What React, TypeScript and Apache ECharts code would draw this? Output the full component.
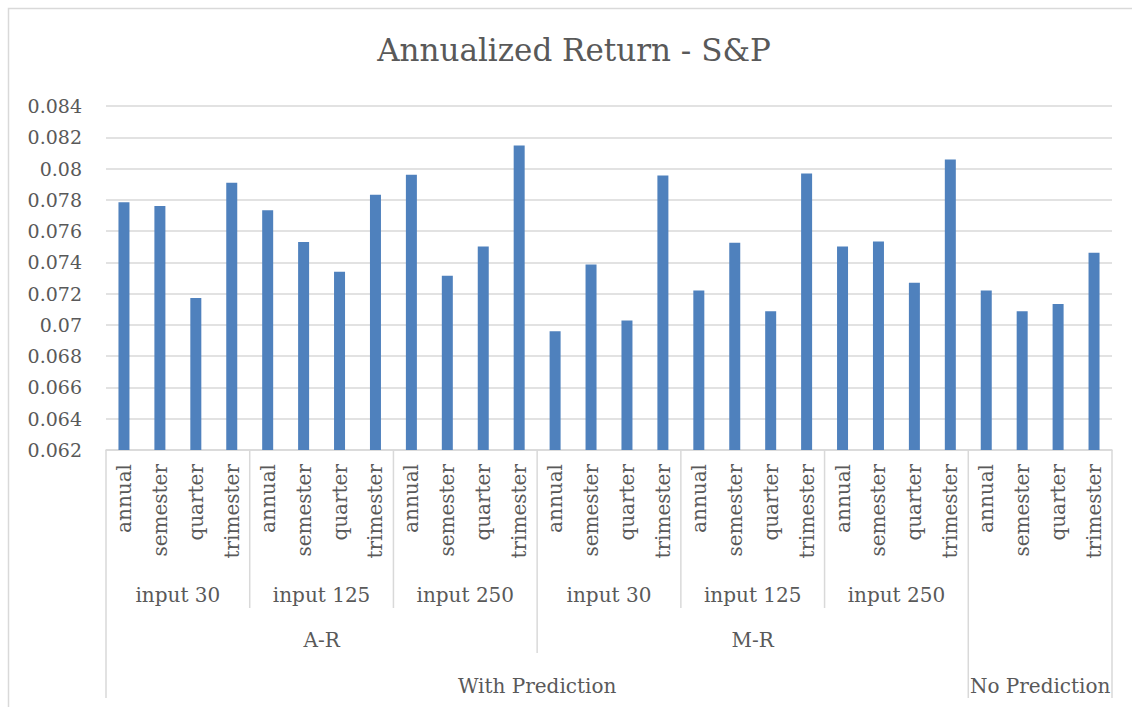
import React, { useEffect, useRef } from "react";
import * as echarts from "echarts";

const titleText = "Annualized Return - S&P";
const subCategories = ["annual", "semester", "quarter", "trimester"];

const arInput30 = [0.07785, 0.0776, 0.07172, 0.07909];
const arInput125 = [0.07734, 0.0753, 0.0734, 0.07832];
const arInput250 = [0.0796, 0.07315, 0.07502, 0.08147];
const mrInput30 = [0.0696, 0.07387, 0.07028, 0.07955];
const mrInput125 = [0.0722, 0.07525, 0.07088, 0.07968];
const mrInput250 = [0.07502, 0.07534, 0.0727, 0.08058];
const noPrediction = [0.0722, 0.07088, 0.07134, 0.07461];

const inputGroups = ["input 30", "input 125", "input 250", "input 30", "input 125", "input 250", ""];
const modelGroups = [
  { name: "A-R", span: 12 },
  { name: "M-R", span: 12 },
  { name: "", span: 4 },
];
const predictionGroups = [
  { name: "With Prediction", span: 24 },
  { name: "No Prediction", span: 4 },
];

const yMin = 0.062;
const yMax = 0.084;
const yStep = 0.002;

const values = [
  ...arInput30,
  ...arInput125,
  ...arInput250,
  ...mrInput30,
  ...mrInput125,
  ...mrInput250,
  ...noPrediction,
];
const categories = inputGroups.flatMap(() => subCategories);

const FONT = "DejaVu Serif";
const TEXT_COLOR = "#595959";
const LINE_COLOR = "#d9d9d9";

export default function App() {
  const ref = useRef<HTMLDivElement>(null);

  useEffect(() => {
    document.body.style.margin = "0";
    const el = ref.current;
    if (!el) return;
    const chart = echarts.init(el, null, { renderer: "svg" });
    const option: any = {
      animation: false,
      backgroundColor: "#ffffff",
      grid: { left: 106, right: 20, top: 106, bottom: 257, containLabel: false },
      xAxis: {
        type: "category",
        data: categories,
        axisLine: { show: true, lineStyle: { color: LINE_COLOR, width: 1.5 } },
        axisTick: { show: false },
        axisLabel: {
          interval: 0,
          rotate: 90,
          margin: 14,
          fontFamily: FONT,
          fontSize: 20,
          color: TEXT_COLOR,
        },
      },
      yAxis: {
        type: "value",
        min: yMin,
        max: yMax,
        interval: yStep,
        axisLine: { show: false },
        axisTick: { show: false },
        splitLine: { show: true, lineStyle: { color: LINE_COLOR, width: 1.5 } },
        axisLabel: {
          margin: 24,
          fontFamily: FONT,
          fontSize: 19,
          color: TEXT_COLOR,
          formatter: (v: number) => String(parseFloat(v.toFixed(3))),
        },
      },
      series: [
        {
          type: "bar",
          data: values,
          barWidth: 11,
          itemStyle: { color: "#4f81bd" },
        },
      ],
    };
    chart.setOption(option);

    const px = (i: number) => chart.convertToPixel({ xAxisIndex: 0 }, i) as number;
    const band = px(1) - px(0);
    const edge = (b: number) => px(0) - band / 2 + b * band;
    const axisY = chart.convertToPixel({ yAxisIndex: 0 }, yMin) as number;

    const lvl2Len = 158;
    const lvl3Len = 203;
    const lvl4Len = 248;
    const lvl2Text = 145;
    const lvl3Text = 190;
    const lvl4Text = 236;

    const lvl3Bounds = new Set<number>();
    let acc = 0;
    lvl3Bounds.add(0);
    modelGroups.forEach((g) => {
      acc += g.span;
      lvl3Bounds.add(acc);
    });
    const lvl4Bounds = new Set<number>();
    acc = 0;
    lvl4Bounds.add(0);
    predictionGroups.forEach((g) => {
      acc += g.span;
      lvl4Bounds.add(acc);
    });

    const graphics: any[] = [];
    // outer chart border
    graphics.push({
      type: "rect",
      shape: { x: 8.5, y: 8.5, width: 1200, height: 800 },
      style: { fill: "none", stroke: LINE_COLOR, lineWidth: 1.5 },
      silent: true,
    });
    graphics.push({
      type: "text",
      x: 574,
      y: 50,
      style: {
        text: titleText,
        font: `31px "${FONT}"`,
        fill: TEXT_COLOR,
        align: "center",
        verticalAlign: "middle",
      },
    });

    const n = categories.length;
    for (let b = 0; b <= n; b += subCategories.length) {
      let len = lvl2Len;
      if (lvl4Bounds.has(b)) len = lvl4Len;
      else if (lvl3Bounds.has(b)) len = lvl3Len;
      const x = edge(b);
      graphics.push({
        type: "line",
        shape: { x1: x, y1: axisY, x2: x, y2: axisY + len },
        style: { stroke: LINE_COLOR, lineWidth: 1.5 },
        silent: true,
      });
    }

    inputGroups.forEach((name, gi) => {
      if (!name) return;
      const s = gi * subCategories.length;
      const cx = (edge(s) + edge(s + subCategories.length)) / 2;
      graphics.push({
        type: "text",
        x: cx,
        y: axisY + lvl2Text,
        style: { text: name, font: `20px "${FONT}"`, fill: TEXT_COLOR, align: "center", verticalAlign: "middle" },
      });
    });

    acc = 0;
    modelGroups.forEach((g) => {
      const cx = (edge(acc) + edge(acc + g.span)) / 2;
      acc += g.span;
      if (!g.name) return;
      graphics.push({
        type: "text",
        x: cx,
        y: axisY + lvl3Text,
        style: { text: g.name, font: `20px "${FONT}"`, fill: TEXT_COLOR, align: "center", verticalAlign: "middle" },
      });
    });

    acc = 0;
    predictionGroups.forEach((g) => {
      const cx = (edge(acc) + edge(acc + g.span)) / 2;
      acc += g.span;
      graphics.push({
        type: "text",
        x: cx,
        y: axisY + lvl4Text,
        style: { text: g.name, font: `20px "${FONT}"`, fill: TEXT_COLOR, align: "center", verticalAlign: "middle" },
      });
    });

    chart.setOption({ graphic: graphics });

    return () => {
      chart.dispose();
    };
  }, []);

  return (
    <div
      ref={ref}
      style={{ position: "fixed", left: 0, top: 0, width: 1132, height: 707 }}
    />
  );
}
